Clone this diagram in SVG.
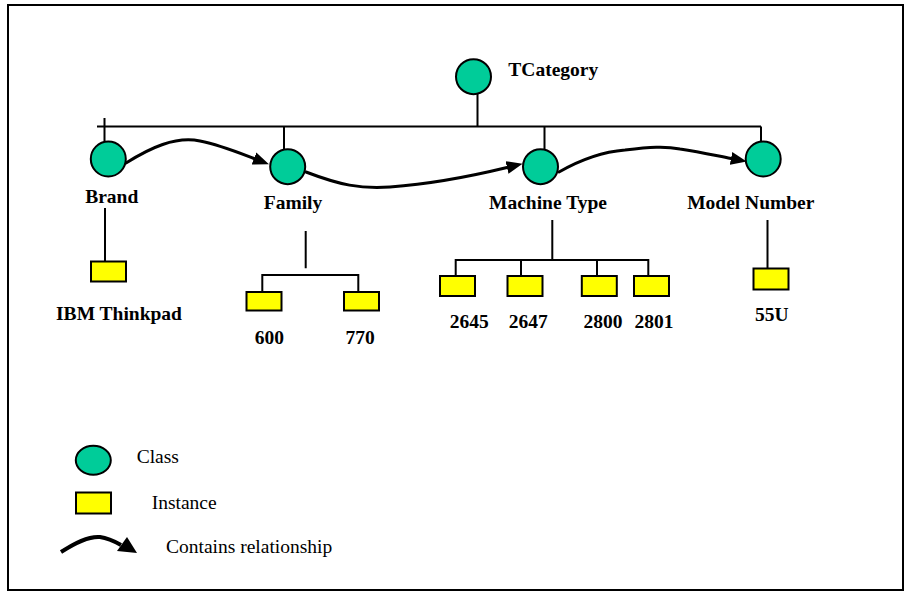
<svg xmlns="http://www.w3.org/2000/svg" width="906" height="592" viewBox="0 0 906 592">
  <style>
    .cls { fill: #00CC99; stroke: #000; stroke-width: 2; }
    .inst { fill: #FFFF00; stroke: #000; stroke-width: 2; }
    .tree { fill: none; stroke: #000; stroke-width: 2; }
    .rel { fill: none; stroke: #000; stroke-width: 3; stroke-linecap: round; }
    .lbl { font-family: "Liberation Serif", "Times New Roman", serif; font-size: 19.5px; font-weight: bold; fill: #000; text-anchor: middle; }
    .leg { font-family: "Liberation Serif", "Times New Roman", serif; font-size: 19.5px; fill: #000; }
  </style>
  <defs>
    <marker id="head" markerUnits="userSpaceOnUse" markerWidth="18" markerHeight="16" viewBox="0 -8 18 16" refX="0" refY="0" orient="auto">
      <path d="M0,-6.5 L16,0 L0,6.5 z" fill="#000"/>
    </marker>
  </defs>

  <rect x="8" y="5" width="895" height="585" fill="#fff" stroke="#000" stroke-width="2"/>

  <!-- hierarchy lines -->
  <g id="connectors">
    <path class="tree" d="M477.5,94 V126.5 M97,126.5 H761 M104.5,118 V141 M284,126.5 V149 M544.5,126.5 V149 M761,126.5 V141"/>
    <path class="tree" d="M105,208 V261"/>
    <path class="tree" d="M305.7,231 V268.3 M262.3,292 V275 H358.3 V292"/>
    <path class="tree" d="M552.3,220 V260 M455.7,276 V260 H648.3 V276 M521,260 V276 M597,260 V276"/>
    <path class="tree" d="M767.5,220 V268.5"/>
    <!-- contains relationships -->
    <path class="rel" marker-end="url(#head)" d="M126,163 C150,148 175,136 200,141 C220,145 237,152 254,158.5"/>
    <path class="rel" marker-end="url(#head)" d="M306,172 C340,185 360,189 390,187 C430,184 468,177 507,167.5"/>
    <path class="rel" marker-end="url(#head)" d="M559,172 C580,160 600,152 625,150 C650,147 665,146 680,149 C700,152 713,155 731,158.5"/>
  </g>

  <!-- classes -->
  <g id="tcategory">
    <circle class="cls" cx="473.5" cy="76.7" r="17.5"/>
    <text class="lbl" x="508.3" y="76" style="text-anchor:start">TCategory</text>
  </g>
  <g id="brand">
    <circle class="cls" cx="108.3" cy="159" r="17.5"/>
    <text class="lbl" x="111.7" y="203">Brand</text>
  </g>
  <g id="family">
    <circle class="cls" cx="287.7" cy="166.7" r="17.5"/>
    <text class="lbl" x="293" y="209">Family</text>
  </g>
  <g id="machine-type">
    <circle class="cls" cx="540.5" cy="166.7" r="17.5"/>
    <text class="lbl" x="548" y="209">Machine Type</text>
  </g>
  <g id="model-number">
    <circle class="cls" cx="763.2" cy="159" r="17.5"/>
    <text class="lbl" x="750.8" y="209">Model Number</text>
  </g>

  <!-- instances -->
  <g id="ibm-thinkpad">
    <rect class="inst" x="91" y="261.5" width="35" height="20"/>
    <text class="lbl" x="119" y="320">IBM Thinkpad</text>
  </g>
  <g id="f600">
    <rect class="inst" x="246.5" y="292" width="35" height="18.5"/>
    <text class="lbl" x="269.3" y="344">600</text>
  </g>
  <g id="f770">
    <rect class="inst" x="344" y="292" width="35" height="18.5"/>
    <text class="lbl" x="360" y="344">770</text>
  </g>
  <g id="m2645">
    <rect class="inst" x="440" y="276" width="35" height="20"/>
    <text class="lbl" x="469.3" y="328.3">2645</text>
  </g>
  <g id="m2647">
    <rect class="inst" x="507.5" y="276" width="35" height="20"/>
    <text class="lbl" x="528.3" y="328.3">2647</text>
  </g>
  <g id="m2800">
    <rect class="inst" x="581.8" y="276" width="35" height="20"/>
    <text class="lbl" x="603" y="328.3">2800</text>
  </g>
  <g id="m2801">
    <rect class="inst" x="634" y="276" width="35" height="20"/>
    <text class="lbl" x="654" y="328.3">2801</text>
  </g>
  <g id="n55u">
    <rect class="inst" x="753.5" y="268.5" width="35" height="21"/>
    <text class="lbl" x="771.7" y="320.7">55U</text>
  </g>

  <!-- legend -->
  <g id="legend">
    <ellipse class="cls" cx="93.3" cy="460.3" rx="17.5" ry="14.5"/>
    <text class="leg" x="136.7" y="463.3">Class</text>
    <rect class="inst" x="76" y="492.5" width="35" height="21"/>
    <text class="leg" x="151.7" y="509.3">Instance</text>
    <path fill="none" stroke="#000" stroke-width="4" d="M61,552 C75,543 88,536 100,537 C108,538 114,541 121,545"/>
    <polygon points="127,537 117,551 137,553" fill="#000"/>
    <text class="leg" x="166" y="553.3">Contains relationship</text>
  </g>
</svg>
